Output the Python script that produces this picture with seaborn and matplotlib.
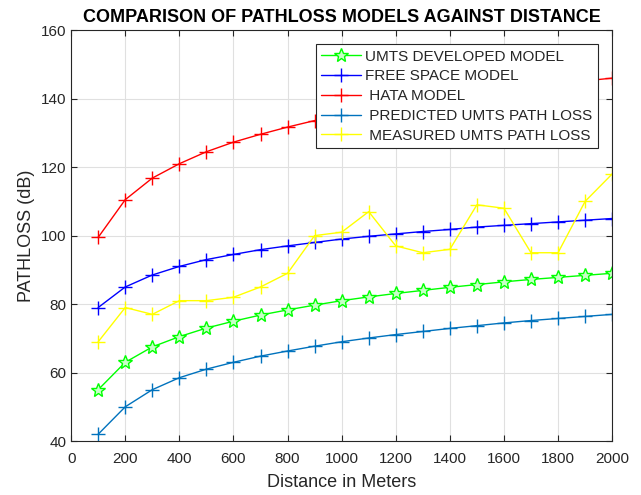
import numpy as np
import pandas as pd
import seaborn as sns
import matplotlib
matplotlib.use("Agg")
import matplotlib.pyplot as plt

distance = [100, 200, 300, 400, 500, 600, 700, 800, 900, 1000,
            1100, 1200, 1300, 1400, 1500, 1600, 1700, 1800, 1900, 2000]

umts_developed = [55, 63, 67.5, 70.5, 73, 75, 76.8, 78.3, 79.7, 81,
                  82.1, 83.1, 84, 84.9, 85.7, 86.5, 87.2, 87.8, 88.4, 89]
free_space = [79, 85, 88.5, 91, 93, 94.5, 95.9, 97, 98, 99,
              99.8, 100.5, 101.2, 101.8, 102.5, 103, 103.5, 104, 104.5, 105]
hata = [99.5, 110.5, 116.8, 121, 124.5, 127.3, 129.6, 131.7, 133.6, 135.2,
        136.7, 138.0, 139.3, 140.4, 141.5, 142.5, 143.5, 144.4, 145.2, 146]
predicted = [42, 50, 55, 58.5, 61, 63, 64.8, 66.3, 67.7, 69,
             70.1, 71.1, 72, 72.9, 73.7, 74.5, 75.2, 75.8, 76.4, 77]
measured = [69, 79, 77, 81, 81, 82, 85, 89, 100, 101,
            107, 97, 95, 96, 109, 108, 95, 95, 110, 118]

sns.set_style("whitegrid")
plt.rcParams['font.family'] = ['Liberation Sans', 'DejaVu Sans']

fig = plt.figure(figsize=(6.41, 4.95), dpi=100)
ax = fig.add_axes([0.111, 0.109, 0.844, 0.830])

series = [
    ("UMTS DEVELOPED MODEL", umts_developed, "#00ff00", "*"),
    ("FREE SPACE MODEL", free_space, "#0000ff", "+"),
    (" HATA MODEL", hata, "#ff0000", "+"),
    (" PREDICTED UMTS PATH LOSS", predicted, "#0072bd", "+"),
    (" MEASURED UMTS PATH LOSS", measured, "#ffff00", "+"),
]

for name, vals, col, mk in series:
    df = pd.DataFrame({"d": distance, "pl": vals})
    if mk == "*":
        sns.lineplot(data=df, x="d", y="pl", ax=ax, color=col, lw=1.0,
                     marker="*", markersize=10, markerfacecolor="#c8ffc8",
                     markeredgecolor=col, markeredgewidth=1.0, label=name)
    else:
        sns.lineplot(data=df, x="d", y="pl", ax=ax, color=col, lw=1.0,
                     marker="+", markersize=10, markeredgewidth=1.0,
                     markeredgecolor=col, label=name)

ax.set_xlim(0, 2000)
ax.set_ylim(40, 160)
ax.set_xticks(np.arange(0, 2001, 200))
ax.set_yticks(np.arange(40, 161, 20))
ax.grid(True, color="#e0e0e0", lw=0.8)
for s in ax.spines.values():
    s.set_color("#262626")
    s.set_linewidth(0.8)
ax.tick_params(direction="in", length=4, top=True, right=True,
               labelsize=11, colors="#262626", bottom=True, left=True)
ax.tick_params(axis="x", pad=8)

ax.set_xlabel("Distance in Meters", fontsize=13, color="#262626", labelpad=6)
ax.set_ylabel("PATHLOSS (dB)", fontsize=13, color="#262626")
ax.set_title("COMPARISON OF PATHLOSS MODELS AGAINST DISTANCE",
             fontsize=13, fontweight="bold", color="black", pad=6)

leg = ax.legend(loc="upper right", bbox_to_anchor=(0.974, 0.966),
                fontsize=11, frameon=True, fancybox=False, framealpha=1,
                borderpad=0.35, labelspacing=0.38, handlelength=2.6,
                handletextpad=0.3, borderaxespad=0)
leg.get_frame().set_edgecolor("#262626")
leg.get_frame().set_linewidth(0.8)

fig.savefig("out.png", dpi=100)
